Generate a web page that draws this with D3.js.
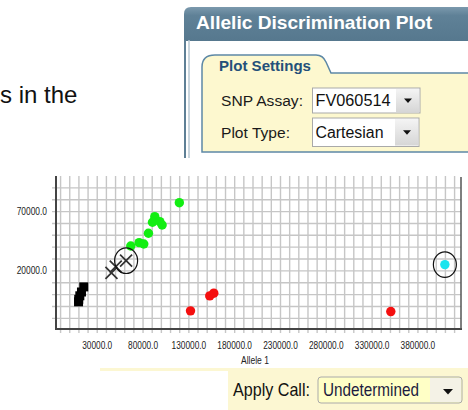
<!DOCTYPE html>
<html><head><meta charset="utf-8">
<script src="https://cdn.jsdelivr.net/npm/d3@7"></script>
<style>body{margin:0;background:#fff;} svg{display:block;font-family:"Liberation Sans",Arial,sans-serif;}</style>
</head><body><svg id="c" width="468" height="410"></svg>
<script>
// ---- data ----
const bothX = [119600, 92800, 90300, 98300, 100800, 85900, 75700, 80800, 66600];
const bothY = [77500, 65700, 61000, 61500, 58700, 51700, 43800, 42700, 41000];
const allele1X = [131800, 152800, 157200, 350400];
const allele1Y = [-13700, -1100, 1200, -14300];
const allele2X = [409400];
const allele2Y = [25300];
const ntcX = [15300, 12800, 11000, 9800, 9600];
const ntcY = [6500, 2200, -1000, -4000, -6100];
const undetX = [61500, 50200, 45500];
const undetY = [28600, 23600, 18300];
const selectedX = [61500, 409400];
const selectedY = [28600, 25300];
const xTicks = [30000, 80000, 130000, 180000, 230000, 280000, 330000, 380000];
const yTicks = [20000, 70000];
const xLabel = "Allele 1";
const titleText = "Allelic Discrimination Plot";
const groupText = "Plot Settings";
const assayLabel = "SNP Assay:", assayValue = "FV060514";
const typeLabel = "Plot Type:", typeValue = "Cartesian";
const callLabel = "Apply Call:", callValue = "Undetermined";
const sideText = "s in the";

const svg = d3.select("#c");
const x = d3.scaleLinear().domain([-15000, 427000]).range([56, 461]);
const y = d3.scaleLinear().domain([-29000, 100000]).range([329, 176]);

function squish(sel, f){ sel.each(function(){ const l=this.getComputedTextLength(); d3.select(this).attr("textLength", l*f).attr("lengthAdjust","spacingAndGlyphs"); }); }

// side text
svg.append("text").attr("x",0).attr("y",103).attr("font-size",24).attr("fill","#111").text(sideText);

// ---- panel ----
const defs = svg.append("defs");
const hg = defs.append("linearGradient").attr("id","hg").attr("x1",0).attr("x2",0).attr("y1",0).attr("y2",1);
hg.append("stop").attr("offset","0%").attr("stop-color","#7b99ad");
hg.append("stop").attr("offset","25%").attr("stop-color","#5f8197");
hg.append("stop").attr("offset","100%").attr("stop-color","#56788e");
const bg = defs.append("linearGradient").attr("id","bg").attr("x1",0).attr("x2",0).attr("y1",0).attr("y2",1);
bg.append("stop").attr("offset","0%").attr("stop-color","#f4f4f4");
bg.append("stop").attr("offset","100%").attr("stop-color","#d6d6d6");

svg.append("rect").attr("x",184).attr("y",40).attr("width",290).attr("height",118).attr("fill","#fff");
svg.append("path").attr("d","M184,41 V14 Q184,7 191,7 H470 V41 Z").attr("fill","url(#hg)");
svg.append("line").attr("x1",185).attr("x2",185).attr("y1",40).attr("y2",158).attr("stroke","#5e7f95").attr("stroke-width",2);
svg.append("line").attr("x1",189).attr("x2",189).attr("y1",40).attr("y2",158).attr("stroke","#b7c7d2").attr("stroke-width",1.5);
svg.append("text").attr("x",196).attr("y",29).attr("font-size",18.5).attr("font-weight","bold").attr("fill","#fff")
  .attr("textLength",236).attr("lengthAdjust","spacingAndGlyphs").text(titleText);

svg.append("path").attr("d","M202,152 V67 Q202,55 215,55 H316 Q323,55 326,62 L331,73 H470 V152 Z").attr("fill","#fdf8cf");
svg.append("path").attr("d","M470,73 H331 L326,62 Q323,55 316,55 H215 Q202,55 202,67 V152 H470").attr("fill","none").attr("stroke","#5d88a6").attr("stroke-width",1.5);
svg.append("text").attr("x",219).attr("y",71).attr("font-size",15.5).attr("font-weight","bold").attr("fill","#24507a")
  .attr("textLength",92).attr("lengthAdjust","spacingAndGlyphs").text(groupText);

function dropdown(bx, by, bw, bh, label, lx, lw, value, vw, fill){
  svg.append("text").attr("x",lx).attr("y",by+bh/2+5.5).attr("font-size",15.5).attr("fill","#1a1a1a")
    .attr("textLength",lw).attr("lengthAdjust","spacingAndGlyphs").text(label);
  svg.append("rect").attr("x",bx).attr("y",by).attr("width",bw).attr("height",bh).attr("fill",fill).attr("stroke","#a9a9a9");
  svg.append("rect").attr("x",bx+bw-24).attr("y",by+1).attr("width",23).attr("height",bh-2).attr("fill","url(#bg)");
  svg.append("text").attr("x",bx+3).attr("y",by+bh/2+5.5).attr("font-size",16).attr("fill","#111")
    .attr("textLength",vw).attr("lengthAdjust","spacingAndGlyphs").text(value);
  const cx = bx+bw-12, cy = by+bh/2;
  svg.append("path").attr("d",`M${cx-4},${cy-2} H${cx+4} L${cx},${cy+2.5} Z`).attr("fill","#111");
}
dropdown(312.5, 88, 107.5, 25, assayLabel, 221, 82, assayValue, 75, "#fff");
dropdown(312.5, 118, 106.5, 28.5, typeLabel, 221, 69, typeValue, 68, "#fff");

// ---- plot ----
const g = svg.append("g");
g.selectAll("line.vg").data(d3.range(-10000, 427000, 10000)).join("line").attr("class","vg")
  .attr("x1",d=>x(d)).attr("x2",d=>x(d)).attr("y1",176).attr("y2",333).attr("stroke","#c6c6c6").attr("stroke-width",1.4);
g.selectAll("line.hg").data(d3.range(-20000, 95000, 10000)).join("line").attr("class","hg")
  .attr("x1",52).attr("x2",461).attr("y1",d=>y(d)).attr("y2",d=>y(d)).attr("stroke","#c6c6c6").attr("stroke-width",1.4);
g.append("line").attr("x1",56).attr("x2",56).attr("y1",176).attr("y2",330).attr("stroke","#444").attr("stroke-width",2);
g.append("line").attr("x1",55).attr("x2",462).attr("y1",329).attr("y2",329).attr("stroke","#444").attr("stroke-width",2);
g.append("line").attr("x1",461).attr("x2",461).attr("y1",177).attr("y2",329).attr("stroke","#555").attr("stroke-width",1.5);

const xl = g.selectAll("text.xl").data(xTicks).join("text").attr("class","xl")
  .attr("x",d=>x(d)).attr("y",349).attr("text-anchor","middle").attr("font-size",10).attr("fill","#222")
  .text(d=>d3.format(".1f")(d));
squish(xl, 0.83);
const yl = g.selectAll("text.yl").data(yTicks).join("text").attr("class","yl")
  .attr("x",47).attr("y",d=>y(d)+3.5).attr("text-anchor","end").attr("font-size",10).attr("fill","#222")
  .text(d=>d3.format(".1f")(d));
squish(yl, 0.84);
const al = g.append("text").attr("x",241).attr("y",364).attr("font-size",10).attr("fill","#222").text(xLabel);
squish(al, 0.85);

// points
const pts = (xs, ys) => xs.map((v,i)=>[v, ys[i]]);
g.selectAll("rect.ntc").data(pts(ntcX, ntcY)).join("rect").attr("class","ntc")
  .attr("x",d=>x(d[0])-4.5).attr("y",d=>y(d[1])-4.5).attr("width",9).attr("height",9).attr("fill","#000");
g.selectAll("circle.both").data(pts(bothX, bothY)).join("circle").attr("class","both")
  .attr("cx",d=>x(d[0])).attr("cy",d=>y(d[1])).attr("r",4.7).attr("fill","#12ee12");
g.selectAll("circle.a1").data(pts(allele1X, allele1Y)).join("circle").attr("class","a1")
  .attr("cx",d=>x(d[0])).attr("cy",d=>y(d[1])).attr("r",4.7).attr("fill","#f40f0f");
g.selectAll("circle.a2").data(pts(allele2X, allele2Y)).join("circle").attr("class","a2")
  .attr("cx",d=>x(d[0])).attr("cy",d=>y(d[1])).attr("r",4.7).attr("fill","#1ae4ee");
g.selectAll("path.ud").data(pts(undetX, undetY)).join("path").attr("class","ud")
  .attr("d",d=>{const cx=x(d[0]), cy=y(d[1]); return `M${cx-6},${cy-6}L${cx+6},${cy+6}M${cx-6},${cy+6}L${cx+6},${cy-6}`;})
  .attr("stroke","#333").attr("stroke-width",1.7).attr("fill","none");
g.selectAll("ellipse.sel").data(pts(selectedX, selectedY)).join("ellipse").attr("class","sel")
  .attr("cx",d=>x(d[0])).attr("cy",d=>y(d[1])).attr("rx",11.5).attr("ry",12.8).attr("fill","none").attr("stroke","#111").attr("stroke-width",1.2);

// ---- bottom call panel ----
svg.append("rect").attr("x",100).attr("y",368).attr("width",368).attr("height",3).attr("fill","#fcf7d2");
svg.append("rect").attr("x",228).attr("y",371).attr("width",240).attr("height",39).attr("fill","#fcf7d2");
svg.append("text").attr("x",233).attr("y",396).attr("font-size",19).attr("fill","#111")
  .attr("textLength",77).attr("lengthAdjust","spacingAndGlyphs").text(callLabel);
svg.append("rect").attr("x",318).attr("y",377).attr("width",144).attr("height",26).attr("rx",3).attr("fill","#ffffc6").attr("stroke","#aaa");
svg.append("rect").attr("x",430).attr("y",378).attr("width",31).attr("height",24).attr("fill","#f4f2e6");
svg.append("text").attr("x",323).attr("y",396).attr("font-size",19).attr("fill","#1c1c40")
  .attr("textLength",96).attr("lengthAdjust","spacingAndGlyphs").text(callValue);
svg.append("path").attr("d","M443,389 H453 L448,394.5 Z").attr("fill","#111");
</script></body></html>
